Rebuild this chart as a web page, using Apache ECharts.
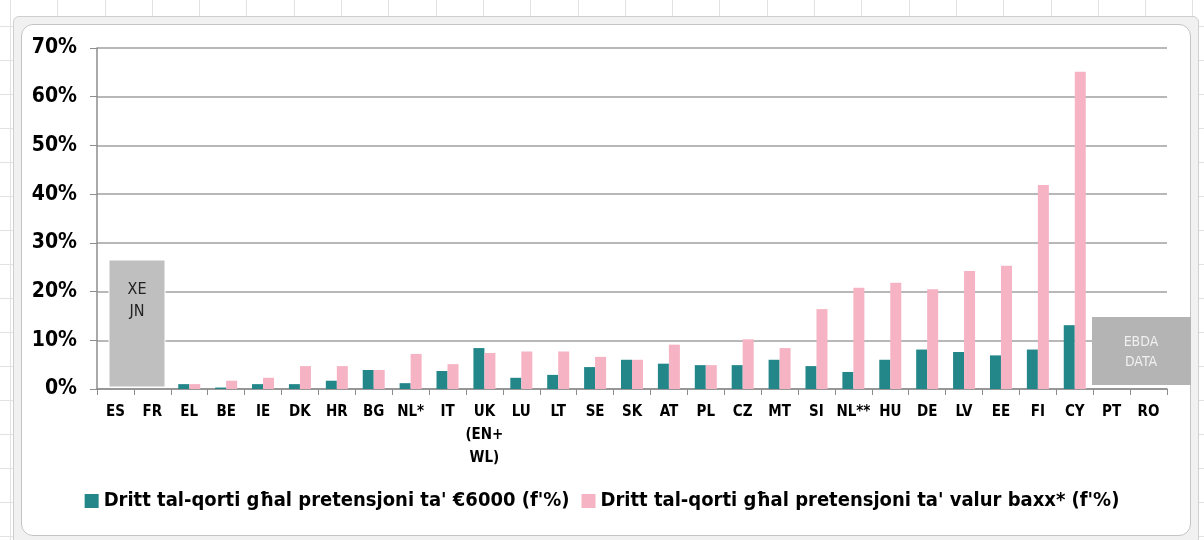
<!DOCTYPE html>
<html>
<head>
<meta charset="utf-8">
<script src="https://cdn.jsdelivr.net/npm/echarts@6/dist/echarts.min.js"></script>
<style>
  html, body {
    margin: 0;
    padding: 0;
    width: 1204px;
    height: 540px;
    overflow: hidden;
    background-color: #fff;
    background-image:
      repeating-linear-gradient(to right, transparent 0, transparent 10px, #e2e2e2 10px, #e2e2e2 11px, transparent 11px, transparent 47.3px),
      repeating-linear-gradient(to bottom, transparent 0, transparent 26px, #e2e2e2 26px, #e2e2e2 27px, transparent 27px, transparent 34px);
  }
  .frame {
    position: absolute;
    left: 13px;
    top: 16px;
    width: 1184px;
    height: 540px;
    background: #f1f1f1;
    border: 1px solid #cfcfcf;
    border-radius: 6px;
  }
  .inner {
    position: absolute;
    left: 21px;
    top: 24px;
    width: 1168px;
    height: 510px;
    background: #fff;
    border: 1px solid #c4c4c4;
    border-radius: 12px;
  }
  #chart {
    position: absolute;
    left: 0;
    top: 0;
    width: 1204px;
    height: 540px;
  }
</style>
</head>
<body>
<div class="frame"></div>
<div class="inner"></div>
<div id="chart"></div>
<script>
// countries along the x axis
const countries = ['ES', 'FR', 'EL', 'BE', 'IE', 'DK', 'HR', 'BG', 'NL*', 'IT', 'UK\n(EN+\nWL)',
  'LU', 'LT', 'SE', 'SK', 'AT', 'PL', 'CZ', 'MT', 'SI', 'NL**', 'HU', 'DE', 'LV', 'EE', 'FI', 'CY', 'PT', 'RO'];

// court fee for a claim of 6000 EUR (%)
const fee6000 = [null, null, 1.0, 0.3, 1.0, 1.0, 1.7, 3.9, 1.2, 3.7, 8.4,
  2.3, 2.9, 4.5, 6.0, 5.2, 4.9, 4.9, 6.0, 4.7, 3.5, 6.0, 8.1, 7.6, 6.9, 8.1, 13.1, null, null];

// court fee for a low value claim (%)
const feeLow = [null, null, 1.0, 1.7, 2.3, 4.7, 4.7, 3.9, 7.2, 5.1, 7.4,
  7.7, 7.7, 6.6, 6.0, 9.1, 4.9, 10.2, 8.4, 16.4, 20.8, 21.8, 20.5, 24.2, 25.3, 41.9, 65.1, null, null];

const seriesNames = [
  "Dritt tal-qorti għal pretensjoni ta' €6000 (f'%)",
  "Dritt tal-qorti għal pretensjoni ta' valur baxx* (f'%)"
];

const font = '"DejaVu Sans Condensed", "DejaVu Sans", sans-serif';
const teal = '#23878a';
const pink = '#f6b3c4';

const chart = echarts.init(document.getElementById('chart'));
chart.setOption({
  animation: false,
  grid: { left: 97, right: 37, top: 48, bottom: 151, containLabel: false },
  legend: {
    bottom: 24,
    left: 'center',
    itemWidth: 14,
    itemHeight: 14,
    itemGap: 12,
    icon: 'rect',
    textStyle: { fontFamily: font, fontSize: 20, fontWeight: 'bold', color: '#000' },
    data: seriesNames
  },
  xAxis: {
    type: 'category',
    data: countries,
    axisLine: { lineStyle: { color: '#8c8c8c', width: 1.5 } },
    axisTick: { show: true, length: 6, lineStyle: { color: '#8c8c8c' } },
    axisLabel: {
      fontFamily: font, fontSize: 15, fontWeight: 'bold', color: '#000',
      margin: 12, lineHeight: 23, interval: 0
    }
  },
  yAxis: {
    type: 'value',
    min: 0,
    max: 70,
    interval: 10,
    axisLine: { show: true, lineStyle: { color: '#8c8c8c', width: 1.5 } },
    axisTick: { show: true, length: 7, lineStyle: { color: '#8c8c8c' } },
    splitLine: { lineStyle: { color: '#a0a0a0', width: 1.5 } },
    axisLabel: {
      formatter: '{value}%', fontFamily: font, fontSize: 21, fontWeight: 'bold',
      color: '#000', margin: 20
    }
  },
  series: [
    {
      name: seriesNames[0],
      type: 'bar',
      data: fee6000,
      itemStyle: { color: teal },
      barWidth: 11,
      barGap: '0%'
    },
    {
      name: seriesNames[1],
      type: 'bar',
      data: feeLow,
      itemStyle: { color: pink },
      barWidth: 11,
      barGap: '0%'
    }
  ],
  graphic: [
    {
      type: 'rect',
      shape: { x: 109, y: 260, width: 56, height: 127 },
      style: { fill: '#bfbfbf', stroke: '#fff', lineWidth: 1 },
      z: 100
    },
    {
      type: 'text',
      x: 137, y: 301,
      style: {
        text: 'XE\nJN', fill: '#222', font: '16px ' + font,
        align: 'center', verticalAlign: 'middle', lineHeight: 22
      },
      z: 101
    },
    {
      type: 'rect',
      shape: { x: 1092, y: 317, width: 99, height: 68 },
      style: { fill: '#b4b4b4' },
      z: 100
    },
    {
      type: 'text',
      x: 1141, y: 352,
      style: {
        text: 'EBDA\nDATA', fill: '#f0f0f0', font: '14px ' + font,
        align: 'center', verticalAlign: 'middle', lineHeight: 20
      },
      z: 101
    }
  ]
});
</script>
</body>
</html>
